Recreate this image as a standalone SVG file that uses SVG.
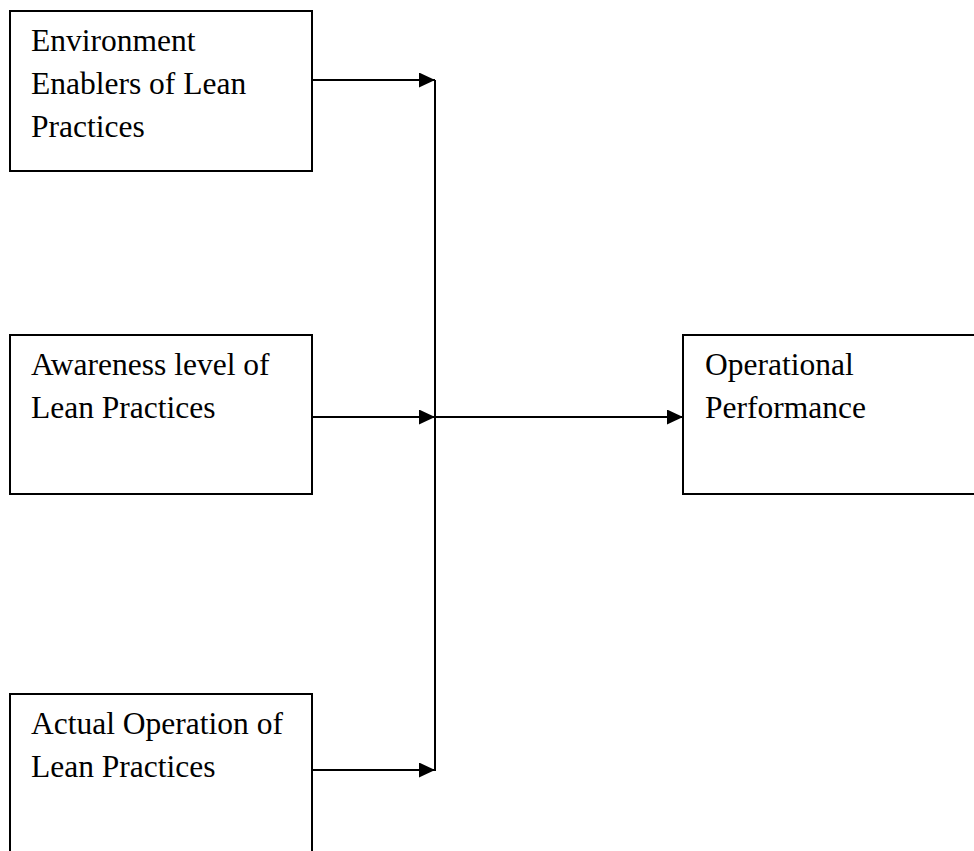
<svg xmlns="http://www.w3.org/2000/svg" width="974" height="851" viewBox="0 0 974 851">
  <style>
    .box { fill: #ffffff; stroke: #000000; stroke-width: 2; }
    .label { font-family: "Liberation Serif", "Times New Roman", serif; font-size: 31.5px; fill: #000000; }
    .wire { fill: none; stroke: #000000; stroke-width: 2; }
  </style>
  <defs>
    <marker id="arrow" markerUnits="userSpaceOnUse" markerWidth="17" markerHeight="15" refX="16" refY="7.5" orient="auto">
      <path d="M0,0 L16,7.5 L0,15 Z" fill="#000000"/>
    </marker>
  </defs>
  <rect width="974" height="851" fill="#ffffff"/>

  <g id="connectors">
    <line class="wire" x1="435" y1="80" x2="435" y2="771"/>
    <line class="wire" x1="312" y1="80" x2="435" y2="80" marker-end="url(#arrow)"/>
    <line class="wire" x1="312" y1="417" x2="435" y2="417" marker-end="url(#arrow)"/>
    <line class="wire" x1="312" y1="770" x2="435" y2="770" marker-end="url(#arrow)"/>
    <line class="wire" x1="435" y1="417" x2="683" y2="417" marker-end="url(#arrow)"/>
  </g>

  <g id="environment-enablers">
    <rect class="box" x="10" y="11" width="302" height="160"/>
    <text class="label" x="31" y="51">Environment</text>
    <text class="label" x="31" y="94">Enablers of Lean</text>
    <text class="label" x="31" y="137">Practices</text>
  </g>

  <g id="awareness-level">
    <rect class="box" x="10" y="335" width="302" height="159"/>
    <text class="label" x="31" y="375">Awareness level of</text>
    <text class="label" x="31" y="418">Lean Practices</text>
  </g>

  <g id="actual-operation">
    <rect class="box" x="10" y="694" width="302" height="170"/>
    <text class="label" x="31" y="734">Actual Operation of</text>
    <text class="label" x="31" y="777">Lean Practices</text>
  </g>

  <g id="operational-performance">
    <rect class="box" x="683" y="335" width="300" height="159"/>
    <text class="label" x="705" y="375">Operational</text>
    <text class="label" x="705" y="418">Performance</text>
  </g>
</svg>
